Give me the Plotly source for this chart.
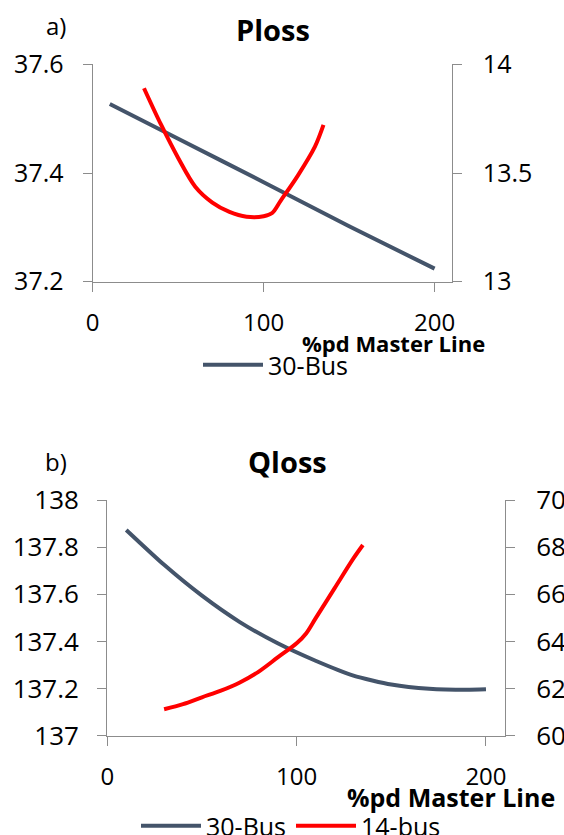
import plotly.graph_objects as go

W, H = 564, 835

# ---------------- data ----------------
# (a) Ploss
pl_x_30bus = [10, 50, 100, 150, 200]
pl_y_30bus = [37.527, 37.463, 37.383, 37.302, 37.224]
pl_x_14bus = [30, 40, 50, 60, 70, 80, 90, 100, 105, 110, 120, 130, 135]
pl_y_14bus = [13.89, 13.722, 13.569, 13.437, 13.364, 13.321, 13.299, 13.301,
              13.316, 13.373, 13.488, 13.621, 13.721]

# (b) Qloss
ql_x_30bus = [10, 30, 50, 70, 90, 110, 130, 150, 170, 190, 200]
ql_y_30bus = [137.873, 137.725, 137.594, 137.482, 137.392, 137.318, 137.255,
              137.217, 137.199, 137.195, 137.197]
ql_x_14bus = [30, 40, 50, 60, 70, 80, 90, 100, 105, 110, 120, 130, 135]
ql_y_14bus = [61.12, 61.34, 61.63, 61.91, 62.26, 62.72, 63.32, 63.92, 64.34,
              64.98, 66.25, 67.52, 68.09]

x_ticks = [0, 100, 200]
series_names = ["30-Bus", "14-bus"]
panel_titles = ["Ploss", "Qloss"]
panel_labels = ["a)", "b)"]
x_title = "%pd Master Line"

# ---------------- style ----------------
BLUE = "#44546A"
RED = "#FF0000"
AX = "#8C8C8C"
FONT = "Open Sans"


def px(x):
    return x / W


def py(y):
    return 1 - y / H


fig = go.Figure()

blue_kw = dict(shape="spline", smoothing=0.6, width=4)
red_kw = dict(shape="spline", smoothing=0.9, width=4)

fig.add_trace(go.Scatter(x=pl_x_30bus, y=pl_y_30bus, mode="lines", name=series_names[0],
                         line=dict(color=BLUE, **blue_kw), xaxis="x", yaxis="y",
                         legend="legend"))
fig.add_trace(go.Scatter(x=pl_x_14bus, y=pl_y_14bus, mode="lines", name=series_names[1],
                         line=dict(color=RED, **red_kw), xaxis="x", yaxis="y2",
                         showlegend=False))
fig.add_trace(go.Scatter(x=ql_x_30bus, y=ql_y_30bus, mode="lines", name=series_names[0],
                         line=dict(color=BLUE, **blue_kw), xaxis="x2", yaxis="y3",
                         legend="legend2"))
fig.add_trace(go.Scatter(x=ql_x_14bus, y=ql_y_14bus, mode="lines", name=series_names[1],
                         line=dict(color=RED, **red_kw), xaxis="x2", yaxis="y4",
                         legend="legend2"))

common_axis = dict(showline=True, linecolor=AX, linewidth=1.3, ticks="outside",
                   ticklen=9, tickcolor=AX, tickwidth=1.3, showgrid=False,
                   zeroline=False, color="black", automargin=False)

top_x = (92.7, 451.7)
top_y = (64.3, 281.7)
bot_x = (107.3, 504.9)
bot_y = (500.0, 735.7)

fig.update_layout(
    width=W, height=H, autosize=False,
    margin=dict(l=0, r=0, t=0, b=0, autoexpand=False),
    paper_bgcolor="white", plot_bgcolor="white",
    font=dict(family=FONT, color="black", size=23),
    xaxis=dict(domain=[px(top_x[0]), px(top_x[1])], range=[0, 210], tickvals=x_ticks,
               anchor="y", tickfont=dict(size=24), ticklabelstandoff=10, **common_axis),
    yaxis=dict(domain=[py(top_y[1]), py(top_y[0])], range=[37.2, 37.6], dtick=0.2,
               tick0=37.2, tickformat=".1f", anchor="x", tickfont=dict(size=25),
               ticklabelstandoff=14, **common_axis),
    yaxis2=dict(overlaying="y", side="right", anchor="x", range=[13, 14], dtick=0.5,
                tick0=13, tickfont=dict(size=25), ticklabelstandoff=16, **common_axis),
    xaxis2=dict(domain=[px(bot_x[0]), px(bot_x[1])], range=[0, 210], tickvals=x_ticks,
                anchor="y3", tickfont=dict(size=24), ticklabelstandoff=10, **common_axis),
    yaxis3=dict(domain=[py(bot_y[1]), py(bot_y[0])], range=[137, 138], dtick=0.2,
                tick0=137, anchor="x2", tickfont=dict(size=26), ticklabelstandoff=13,
                **common_axis),
    yaxis4=dict(overlaying="y3", side="right", anchor="x2", range=[60, 70], dtick=2,
                tick0=60, tickfont=dict(size=26), ticklabelstandoff=16, **common_axis),
    legend=dict(orientation="h", x=px(198), y=py(365), xanchor="left", yanchor="middle",
                font=dict(size=25), bgcolor="rgba(0,0,0,0)", itemwidth=60,
                borderwidth=0),
    legend2=dict(orientation="h", x=px(136), y=py(826), xanchor="left", yanchor="middle",
                 font=dict(size=25), bgcolor="rgba(0,0,0,0)", itemwidth=60,
                 borderwidth=0, entrywidth=80),
    showlegend=True,
)

annotations = [
    dict(text=panel_labels[0], x=px(56), y=py(25), font=dict(size=24)),
    dict(text=panel_titles[0], x=px(273), y=py(29), font=dict(size=29, weight="bold")),
    dict(text=x_title, x=px(487), y=py(343), xanchor="right", font=dict(size=22, weight="bold")),
    dict(text=panel_labels[1], x=px(56), y=py(461), font=dict(size=24)),
    dict(text=panel_titles[1], x=px(287), y=py(462), font=dict(size=29, weight="bold")),
    dict(text=x_title, x=px(557), y=py(797), xanchor="right", font=dict(size=25, weight="bold")),
]
for a in annotations:
    a.setdefault("xanchor", "center")
    a.update(xref="paper", yref="paper", yanchor="middle", showarrow=False)
fig.update_layout(annotations=annotations)

fig.write_html("out.html")
